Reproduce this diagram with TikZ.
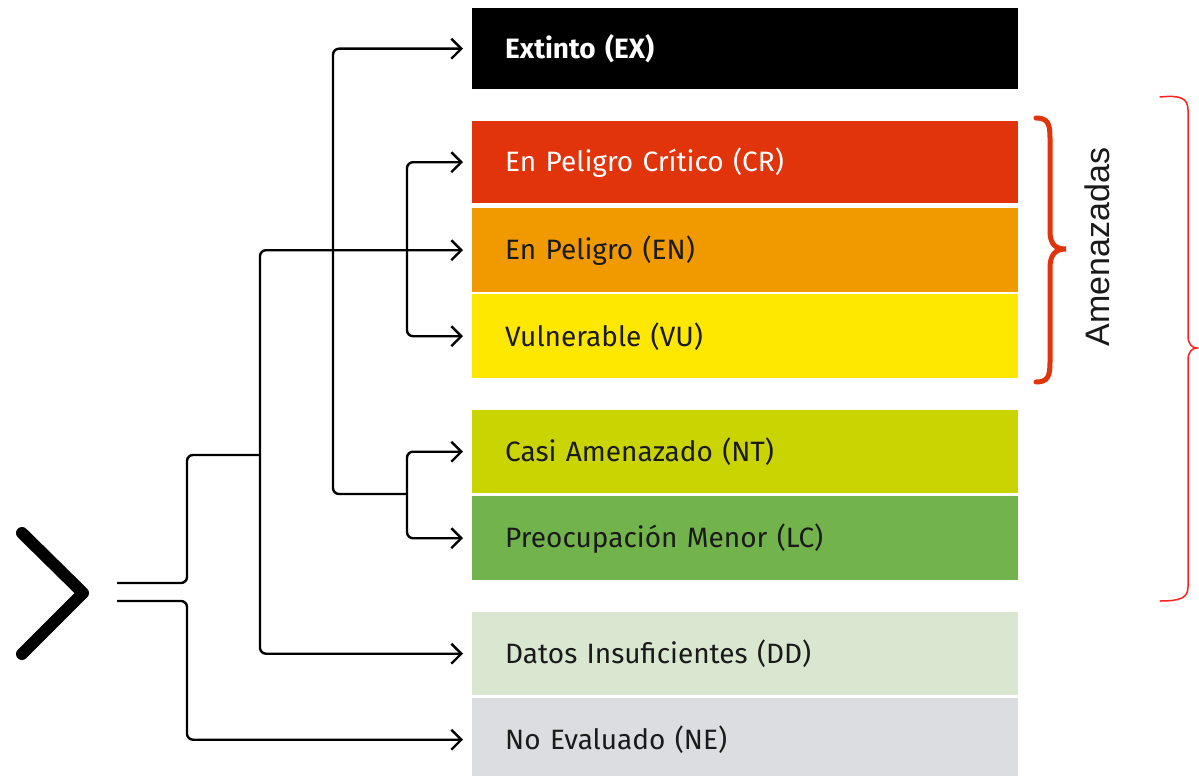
\documentclass[tikz,border=0pt]{standalone}
\usepackage{fontspec}
\setmainfont{Fira Sans}
\newfontfamily\amfont{Liberation Sans}
\usetikzlibrary{arrows.meta}
\definecolor{cEX}{HTML}{000000}
\definecolor{cCR}{HTML}{E2340A}
\definecolor{cEN}{HTML}{F09A00}
\definecolor{cVU}{HTML}{FFE800}
\definecolor{cNT}{HTML}{CAD400}
\definecolor{cLC}{HTML}{73B34B}
\definecolor{cDD}{HTML}{D9E7D0}
\definecolor{cNE}{HTML}{DCDDE0}
\definecolor{cTxt}{HTML}{1A1A1A}
\definecolor{cThin}{HTML}{FF2020}
\begin{document}
\begin{tikzpicture}[x=1pt,y=-1pt,
  catbox/.style={rectangle, anchor=north west, draw=none, inner xsep=33pt, inner ysep=0pt,
    text width=480pt, align=left, minimum height=#1, text=cTxt,
    font=\fontsize{28}{32}\selectfont},
  link/.style={line width=2.4pt, rounded corners=6pt, draw=black},
  arr/.style={link, -{Straight Barb[length=10pt,width=20pt]}, shorten >=9pt},
  bigbrace/.style={line width=5pt, draw=cCR, line cap=round},
  thinbrace/.style={line width=1.5pt, draw=cThin, line cap=round},
]
\useasboundingbox (0,0) rectangle (1199,776);
\fill[white] (0,0) rectangle (1199,776);

% category boxes
\node[catbox=81pt, fill=cEX, text=white, font=\fontsize{28}{32}\selectfont\bfseries] (EX) at (472,8) {Extinto (EX)};
\node[catbox=82pt, fill=cCR, text=white] (CR) at (472,121) {En Peligro Crítico (CR)};
\node[catbox=84pt, fill=cEN] (EN) at (472,208) {En Peligro (EN)};
\node[catbox=84pt, fill=cVU] (VU) at (472,294) {Vulnerable (VU)};
\node[catbox=83pt, fill=cNT] (NT) at (472,410) {Casi Amenazado (NT)};
\node[catbox=84pt, fill=cLC] (LC) at (472,496) {Preocupación Menor (LC)};
\node[catbox=83pt, fill=cDD] (DD) at (472,612) {Datos Insuficientes (DD)};
\node[catbox=83pt, fill=cNE] (NE) at (472,698) {No Evaluado (NE)};

% chevron
\draw[line width=12pt, line cap=round, line join=round] (22,533) -- (83,593) -- (22,654);

% junction coordinates
\coordinate (tU) at (117,583);
\coordinate (tL) at (117,601);
\coordinate (jA) at (260,455);
\coordinate (jCV) at (407,248);
\coordinate (jNL) at (407,494);
\coordinate (vX) at (333,300);
\coordinate (vN) at (187,650);

% connectors
\draw[link] (tU) -| (187,520) |- (jA);
\draw[arr] (jA) |- (EN.west);
\draw[arr] (jA) |- (DD.west);
\draw[arr] (jCV) |- (CR.west);
\draw[arr] (jCV) |- (VU.west);
\draw[arr] (jNL) -| (vX) |- (EX.west);
\draw[arr] (jNL) |- (NT.west);
\draw[arr] (jNL) |- (LC.west);
\draw[arr] (tL) -| (vN) |- (NE.west);

% braces
\draw[bigbrace] (1036,118) .. controls (1048,118) and (1050,124) .. (1050,138)
  -- (1050,231) .. controls (1050,244) and (1055,249) .. (1066,249)
  .. controls (1055,249) and (1050,255) .. (1050,268)
  -- (1050,362) .. controls (1050,376) and (1048,382) .. (1036,382);
\node[rotate=90, font=\amfont\fontsize{34}{38}\selectfont, text=cTxt] (am) at (1097,247) {Amenazadas};
\draw[thinbrace] (1160,97) .. controls (1180,95) and (1188,98) .. (1188,110)
  -- (1188,336) .. controls (1188,344) and (1192,348) .. (1197,348)
  .. controls (1192,348) and (1188,352) .. (1188,360)
  -- (1188,587) .. controls (1188,598) and (1180,601) .. (1160,601);
\end{tikzpicture}
\end{document}
